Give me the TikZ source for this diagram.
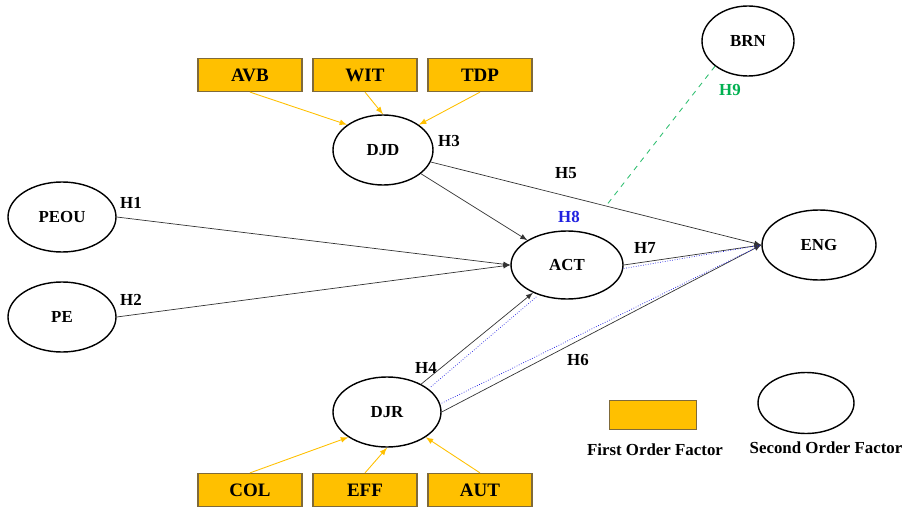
\documentclass[tikz,border=0pt]{standalone}
\usepackage{fontspec}
\setmainfont{Liberation Serif}
\usetikzlibrary{arrows,shapes.geometric}

\definecolor{gold}{HTML}{FFC000}
\definecolor{goldline}{HTML}{7F6A3A}
\definecolor{hgreen}{HTML}{00B050}
\definecolor{hblue}{HTML}{2020E0}

\begin{document}
\begin{tikzpicture}
	[x=0.02cm,y=-0.02cm,>=latex,
	 every node/.style={font=\fontsize{9.6}{11}\selectfont\bfseries},
	 factor/.style={ellipse, draw, line width=0.8pt, inner sep=0pt, minimum width=108*0.02cm, minimum height=70*0.02cm},
	 item/.style={rectangle, draw=goldline, fill=gold, line width=0.7pt, minimum width=104*0.02cm, minimum height=33*0.02cm, font=\fontsize{10.8}{12}\selectfont\bfseries},
	 load/.style={->, gold, line width=0.5pt},
	 path/.style={->, line width=0.4pt, black!80},
	 med/.style={hblue, densely dotted, line width=0.4pt}]
	\useasboundingbox (0,0) rectangle (906,510);
	\node[factor] (peou) at (62,217) {PEOU};
	\node[factor] (pe) at (62,317) {PE};
	\node[factor, minimum width=100*0.02cm] (djd) at (383,150) {DJD};
	\node[factor, minimum width=112*0.02cm, minimum height=68*0.02cm] (act) at (567,265) {ACT};
	\node[factor, minimum width=114*0.02cm] (eng) at (819,245) {ENG};
	\node[factor, minimum width=92*0.02cm] (brn) at (748,41) {BRN};
	\node[factor] (djr) at (387,412) {DJR};
	
	\node[item] (avb) at (250,75) {AVB};
	\node[item] (wit) at (365,75) {WIT};
	\node[item] (tdp) at (480,75) {TDP};
	\node[item] (col) at (250,490) {COL};
	\node[item] (eff) at (365,490) {EFF};
	\node[item] (aut) at (480,490) {AUT};
	
	\draw[load] (avb.south) -- (djd.north west);
	\draw[load] (wit.south) -- (djd.north);
	\draw[load] (tdp.south) -- (djd.north east);
	\draw[load] (col.north) -- (djr.south west);
	\draw[load] (eff.north) -- (djr.south);
	\draw[load] (aut.north) -- (djr.south east);
	
	\draw[path] (peou.east) -- (act.west);
	\draw[path] (pe.east) -- (act.west);
	\draw[path] (djd) -- (act);
	\draw[path] (djd) -- coordinate[pos=0.53] (h9) (eng.west);
	\draw[path] (djr) -- (act);
	\draw[path] (djr.east) -- (eng.west);
	\draw[path] (act.east) -- (eng.west);
	
	\draw[med] ([xshift=3pt]djr.north east) -- ([xshift=-17pt,yshift=2pt]act.south);
	\draw[med] ([yshift=5pt]djr.east) -- (eng.west);
	\draw[med] ([yshift=-2pt]act.east) -- (eng.west);
	\draw[hgreen!80, dashed, line width=0.5pt] (brn.south west) -- (h9);
	
	\node (l1) at (131,203) {H1};
	\node (l2) at (131,300) {H2};
	\node (l3) at (449,141) {H3};
	\node (l4) at (426,368) {H4};
	\node (l5) at (566,173) {H5};
	\node (l6) at (578,360) {H6};
	\node (l7) at (645,248) {H7};
	\node[text=hblue] (l8) at (569,217) {H8};
	\node[text=hgreen] (l9) at (730,90) {H9};
	
	% legend
	\node[item, minimum width=87*0.02cm, minimum height=29*0.02cm] (legitem) at (653,415) {};
	\node[factor, minimum width=96*0.02cm, minimum height=61*0.02cm] (legfactor) at (806,403) {};
	\node (legitemtext) at (655,450) {First Order Factor};
	\node (legfactortext) at (826,448) {Second Order Factor};
\end{tikzpicture}
\end{document}
